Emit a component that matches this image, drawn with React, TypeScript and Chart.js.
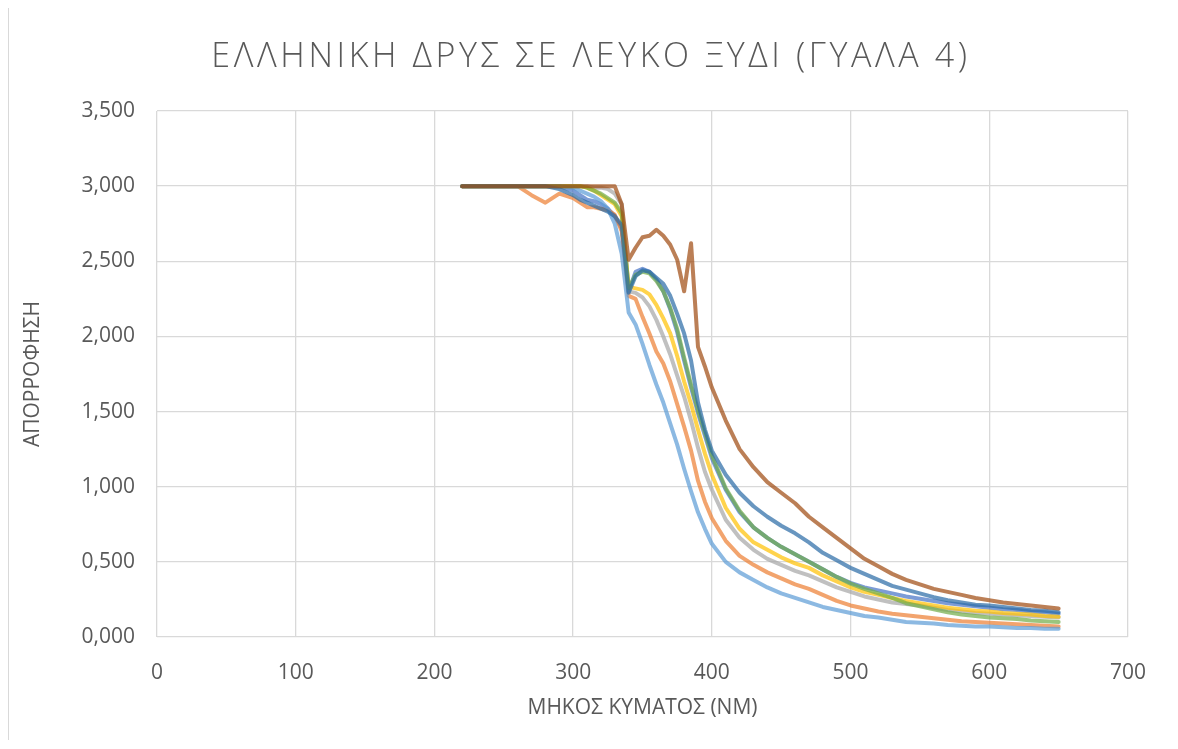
import { useEffect, useRef } from "react";
import { Chart, registerables } from "chart.js";

Chart.register(...registerables);

// Wavelength grid (nm) shared by all spectra
const wavelengths = [
  220, 230, 240, 250, 260, 270, 280, 290, 300, 305, 310, 315, 320, 325, 330, 335, 340, 345,
  350, 355, 360, 365, 370, 375, 380, 385, 390, 395, 400, 410, 420, 430, 440, 450, 460, 470,
  480, 490, 500, 510, 520, 530, 540, 550, 560, 570, 580, 590, 600, 610, 620, 630, 640, 650,
];

// Absorbance spectra, one array per measurement
const spectrum1 = [
  3, 3, 3, 3, 3, 3, 3, 3, 2.97, 2.94, 2.91, 2.9, 2.88, 2.85, 2.8, 2.72, 2.3, 2.43,
  2.45, 2.43, 2.38, 2.3, 2.18, 2.03, 1.84, 1.66, 1.49, 1.34, 1.19, 0.98, 0.83, 0.73, 0.66, 0.6, 0.55, 0.5,
  0.45, 0.4, 0.36, 0.33, 0.31, 0.29, 0.27, 0.255, 0.24, 0.225, 0.215, 0.205, 0.195, 0.185, 0.18, 0.17, 0.165, 0.155,
];
const spectrum2 = [
  3, 3, 3, 3, 3, 2.94, 2.89, 2.95, 2.92, 2.89, 2.86, 2.86, 2.85, 2.84, 2.81, 2.7, 2.27, 2.25,
  2.13, 2.02, 1.9, 1.82, 1.7, 1.55, 1.4, 1.24, 1.04, 0.9, 0.79, 0.64, 0.54, 0.48, 0.43, 0.39, 0.35, 0.32,
  0.28, 0.24, 0.21, 0.19, 0.17, 0.155, 0.145, 0.135, 0.125, 0.115, 0.105, 0.1, 0.095, 0.09, 0.085, 0.08, 0.075, 0.07,
];
const spectrum3 = [
  3, 3, 3, 3, 3, 3, 3, 3, 3, 3, 3, 2.99, 2.99, 2.98, 2.95, 2.88, 2.3, 2.29,
  2.26, 2.2, 2.11, 2.0, 1.88, 1.74, 1.6, 1.44, 1.26, 1.1, 0.98, 0.78, 0.66, 0.58, 0.52, 0.48, 0.44, 0.41,
  0.37, 0.33, 0.3, 0.27, 0.25, 0.23, 0.22, 0.21, 0.195, 0.18, 0.17, 0.16, 0.155, 0.15, 0.145, 0.14, 0.135, 0.13,
];
const spectrum4 = [
  3, 3, 3, 3, 3, 3, 3, 3, 3, 3, 2.99, 2.97, 2.94, 2.91, 2.88, 2.8, 2.33, 2.32,
  2.31, 2.28, 2.21, 2.12, 2.02, 1.87, 1.7, 1.55, 1.38, 1.22, 1.08, 0.86, 0.72, 0.63, 0.58, 0.53, 0.49, 0.46,
  0.41, 0.37, 0.33, 0.3, 0.28, 0.26, 0.24, 0.225, 0.21, 0.195, 0.185, 0.175, 0.17, 0.16, 0.155, 0.15, 0.14, 0.135,
];
const spectrum5 = [
  3, 3, 3, 3, 3, 3, 3, 3, 2.99, 2.97, 2.95, 2.93, 2.9, 2.85, 2.75, 2.55, 2.16, 2.08,
  1.95, 1.81, 1.68, 1.56, 1.42, 1.28, 1.12, 0.97, 0.83, 0.72, 0.62, 0.5, 0.43, 0.38, 0.33, 0.29, 0.26, 0.23,
  0.2, 0.18, 0.16, 0.14, 0.13, 0.115, 0.1, 0.095, 0.09, 0.08, 0.075, 0.07, 0.07, 0.065, 0.06, 0.06, 0.055, 0.055,
];
const spectrum6 = [
  3, 3, 3, 3, 3, 3, 3, 3, 3, 3, 2.99, 2.97, 2.95, 2.92, 2.89, 2.82, 2.32, 2.41,
  2.43, 2.42, 2.37, 2.3, 2.19, 2.05, 1.86, 1.68, 1.51, 1.36, 1.21, 0.99, 0.84, 0.73, 0.66, 0.6, 0.55, 0.5,
  0.45, 0.4, 0.355, 0.32, 0.29, 0.26, 0.225, 0.205, 0.185, 0.165, 0.15, 0.14, 0.13, 0.125, 0.12, 0.11, 0.105, 0.1,
];
const spectrum7 = [
  3, 3, 3, 3, 3, 3, 3, 2.98, 2.94, 2.91, 2.89, 2.87, 2.85, 2.83, 2.8, 2.74, 2.29, 2.4,
  2.44, 2.43, 2.39, 2.35, 2.27, 2.15, 2.02, 1.84, 1.56, 1.38, 1.24, 1.08, 0.96, 0.87, 0.8, 0.74, 0.69, 0.63,
  0.56, 0.51, 0.46, 0.42, 0.38, 0.34, 0.315, 0.29, 0.265, 0.245, 0.23, 0.215, 0.21, 0.2, 0.19, 0.18, 0.175, 0.165,
];
const spectrum8 = [
  3, 3, 3, 3, 3, 3, 3, 3, 3, 3, 3, 3, 3, 3, 3, 2.88, 2.51, 2.59,
  2.66, 2.67, 2.71, 2.67, 2.61, 2.51, 2.3, 2.62, 1.93, 1.8, 1.66, 1.44, 1.25, 1.13, 1.03, 0.96, 0.89, 0.8,
  0.73, 0.66, 0.59, 0.52, 0.47, 0.42, 0.38, 0.35, 0.32, 0.3, 0.28, 0.26, 0.245, 0.23, 0.22, 0.21, 0.2, 0.19,
];

const spectra = [spectrum1, spectrum2, spectrum3, spectrum4, spectrum5, spectrum6, spectrum7, spectrum8];
const seriesNames = ["1", "2", "3", "4", "5", "6", "7", "8"];
const seriesColors = [
  "rgba(68, 114, 196, 0.7)",
  "rgba(237, 125, 49, 0.7)",
  "rgba(165, 165, 165, 0.7)",
  "rgba(255, 192, 0, 0.7)",
  "rgba(91, 155, 213, 0.7)",
  "rgba(112, 173, 71, 0.7)",
  "rgba(40, 105, 165, 0.7)",
  "rgba(158, 72, 14, 0.7)",
];

const absorbanceTicks = [0, 0.5, 1, 1.5, 2, 2.5, 3, 3.5];
const wavelengthTicks = [0, 100, 200, 300, 400, 500, 600, 700];

const chartTitle = "ΕΛΛΗΝΙΚΗ ΔΡΥΣ ΣΕ ΛΕΥΚΟ ΞΥΔΙ (ΓΥΑΛΑ 4)";
const xTitle = "ΜΗΚΟΣ ΚΥΜΑΤΟΣ (ΝΜ)";
const yTitle = "ΑΠΟΡΡΟΦΗΣΗ";

const textColor = "#595959";
const gridColor = "#D9D9D9";
const family = "'Open Sans', sans-serif";

// Draws the chart title with extra letter spacing
const spacedTitle = {
  id: "spacedTitle",
  afterLayout(chart: any) {
    const block = chart.titleBlock;
    if (!block || block.__spaced) return;
    const draw = block.draw.bind(block);
    block.draw = (area: any) => {
      const ctx = chart.ctx;
      ctx.save();
      ctx.letterSpacing = "3.6px";
      draw(area);
      ctx.restore();
    };
    block.__spaced = true;
  },
};

export default function App() {
  const canvasRef = useRef<HTMLCanvasElement>(null);

  useEffect(() => {
    const canvas = canvasRef.current;
    if (!canvas) return;
    const n = spectra.length;
    const chart = new Chart(canvas, {
      type: "scatter",
      data: {
        datasets: spectra.map((values, i) => ({
          label: seriesNames[i],
          data: wavelengths.map((x, j) => ({ x, y: values[j] })),
          showLine: true,
          borderColor: seriesColors[i],
          backgroundColor: seriesColors[i],
          borderWidth: 4,
          borderCapStyle: "round",
          borderJoinStyle: "round",
          pointRadius: 0,
          pointHoverRadius: 0,
          tension: 0,
          order: n - 1 - i,
        })),
      },
      plugins: [spacedTitle],
      options: {
        animation: false,
        responsive: false,
        devicePixelRatio: 1,
        layout: { padding: { left: 45, right: 48, top: 0, bottom: 13 } },
        plugins: {
          legend: { display: false },
          tooltip: { enabled: false },
          title: {
            display: true,
            text: chartTitle,
            color: textColor,
            font: { family, size: 34, weight: "300" },
            padding: { top: 28.6, bottom: 33.6 },
          },
        },
        scales: {
          x: {
            type: "linear",
            min: 0,
            max: 700,
            afterBuildTicks: (axis: any) => {
              axis.ticks = wavelengthTicks.map((value) => ({ value }));
            },
            afterFit: (axis: any) => {
              axis.height = 90;
            },
            grid: { color: gridColor, lineWidth: 1.3, drawTicks: false },
            border: { display: false },
            ticks: {
              padding: 23,
              color: textColor,
              font: { family, size: 21 },
              maxRotation: 0,
              callback: (v: any) => String(v),
            },
            title: {
              display: true,
              text: xTitle,
              color: textColor,
              font: { family, size: 21 },
              padding: { top: 0, bottom: 6.4 },
            },
          },
          y: {
            type: "linear",
            min: 0,
            max: 3.5,
            afterBuildTicks: (axis: any) => {
              axis.ticks = absorbanceTicks.map((value) => ({ value }));
            },
            afterFit: (axis: any) => {
              axis.width = 103;
            },
            grid: { color: gridColor, lineWidth: 1.3, drawTicks: false },
            border: { display: false },
            ticks: {
              padding: 22,
              color: textColor,
              font: { family, size: 21 },
              callback: (v: any) => Number(v).toFixed(3).replace(".", ","),
            },
            title: {
              display: true,
              text: yTitle,
              color: textColor,
              font: { family, size: 21 },
              padding: { top: -33.6, bottom: 0 },
            },
          },
        },
      },
    } as any);
    return () => chart.destroy();
  }, []);

  return (
    <div
      style={{
        width: 1169,
        height: 733,
        marginTop: -1,
        border: `1px solid ${gridColor}`,
        borderBottom: "none",
        boxSizing: "border-box",
        background: "#ffffff",
      }}
    >
      <canvas ref={canvasRef} width={1167} height={732} style={{ display: "block" }} />
    </div>
  );
}
